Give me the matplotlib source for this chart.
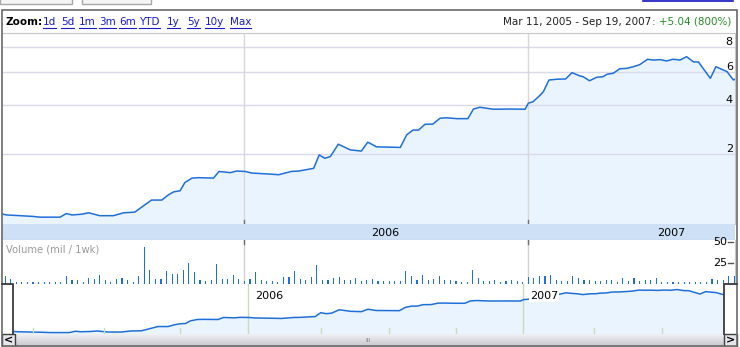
# Google Finance style price chart, Mar 2005 - Sep 2007

import numpy as np
import pandas as pd
import matplotlib
matplotlib.use("Agg")
import matplotlib.pyplot as plt
from matplotlib.patches import Rectangle
from matplotlib.lines import Line2D

# ---- data ----
price_dates = ['2005-03-08', '2005-03-17', '2005-04-03', '2005-04-19', '2005-04-28', '2005-05-23',
               '2005-05-31', '2005-06-07', '2005-06-19', '2005-06-28', '2005-07-12', '2005-07-29',
               '2005-08-11', '2005-08-25', '2005-09-15', '2005-09-28', '2005-10-06', '2005-10-13',
               '2005-10-21', '2005-10-27', '2005-11-05', '2005-11-13', '2005-12-02', '2005-12-09',
               '2005-12-23', '2005-12-31', '2006-01-11', '2006-01-19', '2006-02-07', '2006-02-22',
               '2006-03-10', '2006-03-19', '2006-04-07', '2006-04-14', '2006-04-21', '2006-04-28',
               '2006-05-08', '2006-05-23', '2006-06-06', '2006-06-14', '2006-06-17', '2006-06-25',
               '2006-07-25', '2006-08-02', '2006-08-10', '2006-08-17', '2006-08-25', '2006-09-04',
               '2006-09-13', '2006-09-21', '2006-10-04', '2006-10-18', '2006-10-25', '2006-11-02',
               '2006-11-19', '2006-12-10', '2006-12-29', '2007-01-02', '2007-01-08', '2007-01-17',
               '2007-01-21', '2007-01-28', '2007-02-07', '2007-02-18', '2007-02-26', '2007-03-08',
               '2007-03-12', '2007-03-20', '2007-03-29', '2007-04-06', '2007-04-11', '2007-04-19',
               '2007-04-27', '2007-05-06', '2007-05-14', '2007-05-22', '2007-06-01', '2007-06-08',
               '2007-06-17', '2007-06-25', '2007-07-03', '2007-07-12', '2007-07-20', '2007-07-29',
               '2007-08-04', '2007-08-19', '2007-08-26', '2007-09-09', '2007-09-17', '2007-09-21']
price = [0.70, 0.68, 0.67, 0.66, 0.65, 0.65, 0.70, 0.68, 0.69, 0.71,
         0.67, 0.67, 0.71, 0.72, 0.91, 0.91, 1.00, 1.06, 1.08, 1.25,
         1.35, 1.36, 1.35, 1.51, 1.48, 1.52, 1.51, 1.47, 1.45, 1.43,
         1.51, 1.52, 1.59, 1.97, 1.87, 1.92, 2.32, 2.13, 2.09, 2.39,
         2.35, 2.23, 2.21, 2.66, 2.85, 2.85, 3.09, 3.10, 3.36, 3.38,
         3.34, 3.34, 3.80, 3.89, 3.79, 3.80, 3.79, 4.10, 4.18, 4.55,
         4.75, 5.48, 5.53, 5.55, 5.98, 5.75, 5.70, 5.43, 5.66, 5.70,
         5.87, 5.94, 6.26, 6.29, 6.41, 6.56, 6.98, 6.92, 6.95, 6.85,
         6.98, 6.92, 7.19, 6.77, 6.77, 5.59, 6.41, 6.05, 5.48, 5.59]

# weekly volume, millions
vol_first_week = '2005-03-15'
volume = [9.8, 5.9, 2.4, 2.0, 2.0, 2.0, 2.0, 2.0, 2.0, 2.0, 2.0, 9.8, 4.3, 4.3, 2.8,
          6.7, 5.9, 11.0, 5.1, 2.8, 5.9, 6.7, 5.1, 2.8, 9.8, 43.2, 16.9, 5.9, 5.9, 14.9,
          12.2, 11.4, 16.9, 24.8, 13.8, 4.3, 3.9, 4.7, 24.0, 5.9, 5.9, 10.6, 5.9, 3.5, 5.9,
          13.8, 4.3, 3.9, 3.9, 2.8, 8.3, 8.3, 14.9, 5.9, 5.1, 8.3, 22.8, 4.3, 5.1, 7.5,
          8.3, 4.3, 4.3, 6.7, 3.5, 5.1,
          5.9, 3.9, 3.1, 3.1, 3.1, 3.1, 14.9, 9.0, 4.3, 11.0, 5.1, 5.9, 9.0, 5.1, 5.1,
          3.5, 2.8, 2.8, 16.9, 7.5, 3.5, 3.5, 4.7, 2.8, 3.5, 4.3, 3.5, 2.8, 8.3, 6.7,
          9.8, 9.8, 11.0, 5.1, 3.5, 3.5, 9.0, 6.7, 5.1, 4.3, 3.5, 3.5, 4.3, 4.3, 2.8,
          6.7, 3.5, 6.7, 3.5, 4.3, 4.3, 7.5, 2.8, 2.8, 2.8, 2.8, 2.8, 2.8, 2.8, 2.8,
          2.8, 5.9, 5.1, 5.1, 9.8, 9.8]

range_start, range_end = '2005-03-11', '2007-09-19'
price_ticks = [2, 4, 6, 8]
vol_ticks = [25, 50]
year_grid = ['2006-01-10', '2007-01-01']      # where the year lines sit in the picture
year_labels = ['2006', '2007']
year_label_dates = ['2006-07-06', '2007-07-01']
nav_ticks = ['2005-04-06', '2005-07-07', '2005-10-13', '2006-04-14', '2006-07-11',
             '2006-10-06', '2007-04-03', '2007-06-30']
zoom_links = ['1d', '5d', '1m', '3m', '6m', 'YTD', '1y', '5y', '10y', 'Max']

pdates = pd.to_datetime(price_dates)
vdates = pd.date_range(vol_first_week, periods=len(volume), freq='7D')
ygrid = pd.to_datetime(year_grid)
xlim = (pd.Timestamp(range_start), pd.Timestamp(range_end))

LINE = '#1f6fd8'
FILL = '#eaf4fe'
plt.rcParams['font.family'] = 'DejaVu Sans'

W, H = 740, 347


def box(x0, y0, x1, y1):
    return [x0 / W, 1 - y1 / H, (x1 - x0) / W, (y1 - y0) / H]


def fx(x):
    return x / W


def fy(y):
    return 1 - y / H


def root4(v):
    return np.sign(v) * np.abs(v) ** 0.25


def pow4(t):
    return np.sign(t) * np.abs(t) ** 4


fig = plt.figure(figsize=(7.4, 3.47), dpi=100)

# tabs above the chart and link underline
for x0, x1 in [(0, 72), (82, 151)]:
    fig.add_artist(Rectangle((fx(x0), fy(4)), (x1 - x0) / W, 8 / H, transform=fig.transFigure,
                             facecolor='#f4f4f4', edgecolor='#a8a8a8', lw=1))
fig.add_artist(Line2D([fx(643), fx(733)], [fy(0.6), fy(0.6)], color='#1010c0', lw=1.2))

# ---- main price panel ----
ax = fig.add_axes(box(2, 33, 735, 224))
ax.set_yscale('function', functions=(root4, pow4))
ax.fill_between(pdates, price, 0, color=FILL, lw=0, zorder=1)
ax.plot(pdates, price, color=LINE, lw=1.1, zorder=3)
ax.set_xlim(*xlim)
ax.set_ylim(0.5635, 9.305)
for v in price_ticks:
    ax.axhline(v, color='#dadaea', lw=1, zorder=2)
    ax.text(0.997, v, str(v), transform=ax.get_yaxis_transform(), ha='right', va='bottom',
            fontsize=8, color='black', zorder=5)
for d in ygrid:
    ax.axvline(d, color='#d8d8d8', lw=1, zorder=2)
    ax.axvline(d, ymin=0, ymax=0.022, color='#707070', lw=1, zorder=4)
ax.set_xticks([])
ax.set_yticks([])
ax.minorticks_off()
for s in ['left', 'bottom']:
    ax.spines[s].set_visible(False)
ax.spines['top'].set_color('#c8c8c8')
ax.spines['right'].set_color('#c8c8c8')

# year band
axb = fig.add_axes(box(2, 224, 735, 240), sharex=ax)
axb.set_facecolor('#cde0f6')
axb.set_yticks([])
axb.tick_params(axis='x', length=0, labelbottom=False)
for lab, d in zip(year_labels, pd.to_datetime(year_label_dates)):
    axb.text(d, 0.45, lab, ha='center', va='center', fontsize=8, color='black')
for s in ['left', 'top', 'right']:
    axb.spines[s].set_visible(False)
axb.spines['bottom'].set_color('#a8b8c8')

# ---- volume panel ----
axv = fig.add_axes(box(2, 240, 735, 284), sharex=ax)
axv.bar(vdates, volume, width=1.4, color=LINE, lw=0, zorder=3)
axv.set_ylim(0, 52)
for d in ygrid:
    axv.axvline(d, color='#d0d0d0', lw=1, zorder=1)
    axv.axvline(d, ymin=0.9, ymax=1, color='#707070', lw=1, zorder=2)
for v in vol_ticks:
    axv.text(0.989, v, str(v), transform=axv.get_yaxis_transform(), ha='right', va='center',
             fontsize=8, color='black')
    axv.plot([0.991, 0.997], [v, v], transform=axv.get_yaxis_transform(), color='#555555', lw=1)
axv.text(0.006, 0.78, 'Volume (mil / 1wk)', transform=axv.transAxes, fontsize=7.2,
         color='#9a9a9a', va='center')
axv.set_yticks([])
axv.tick_params(axis='x', length=0, labelbottom=False)
for s in ['left', 'top']:
    axv.spines[s].set_visible(False)
axv.spines['bottom'].set_color('#c8c8c8')
axv.spines['right'].set_color('#c8c8c8')

# ---- navigator ----
axn = fig.add_axes(box(13, 284, 724, 334))
axn.set_yscale('log')
axn.fill_between(pdates, price, 0.1, color=FILL, lw=0, zorder=1)
axn.plot(pdates, price, color=LINE, lw=1.1, zorder=3)
axn.set_xlim(*xlim)
axn.set_ylim(0.6, 9.8)
for d, lab in zip(ygrid, year_labels):
    axn.axvline(d, color='#c6dcbc', lw=1, zorder=2)
    axn.annotate(lab, xy=(d, 1), xycoords=('data', 'axes fraction'), xytext=(7, -7),
                 textcoords='offset pixels', ha='left', va='top', fontsize=8, zorder=5,
                 bbox=dict(boxstyle='square,pad=0.05', facecolor='white', edgecolor='none'))
for q in pd.to_datetime(nav_ticks):
    axn.axvline(q, ymin=0.03, ymax=0.12, color='#c6dcbc', lw=1, zorder=4)
axn.set_xticks([])
axn.set_yticks([])
axn.minorticks_off()
for s in axn.spines.values():
    s.set_visible(False)

# navigator window handles
fig.add_artist(Line2D([fx(2), fx(13), fx(13)], [fy(284), fy(284), fy(334)], color='#3a3a3a', lw=1.3))
fig.add_artist(Line2D([fx(737), fx(724), fx(724)], [fy(284), fy(284), fy(334)], color='#3a3a3a', lw=1.3))

# scrollbar with a soft vertical gradient
axs = fig.add_axes(box(2, 334, 737, 347))
grad = np.linspace(0, 1, 24).reshape(-1, 1)
axs.imshow(grad, aspect='auto', cmap=matplotlib.colors.LinearSegmentedColormap.from_list(
    'sb', ['#f0f0f4', '#c4c4cc']), extent=(0, 1, 0, 1), origin='upper')
axs.set_xlim(0, 1)
axs.set_ylim(0, 1)
axs.axis('off')
for x0, sym in [(2, '<'), (724, '>')]:
    fig.add_artist(Rectangle((fx(x0), fy(347)), 13 / W, 13 / H, transform=fig.transFigure,
                             facecolor='#e6e6ea', edgecolor='#404040', lw=1))
    fig.text(fx(x0 + 6.5), fy(340.5), sym, ha='center', va='center', fontsize=8,
             fontweight='bold', color='black')
fig.text(fx(368), fy(340.5), 'III', ha='center', va='center', fontsize=4.5, color='#888888')

# outer frame
fig.add_artist(Rectangle((fx(2), fy(346)), 735 / W, 336 / H, transform=fig.transFigure,
                         fill=False, edgecolor='#6a6a6a', lw=1.2))

# ---- header ----
fig.text(fx(6), fy(22), 'Zoom:', fontsize=7.5, fontweight='bold', va='center', color='black')
link_x = [43, 61, 79, 99, 119, 139, 167, 187, 205, 230]
renderer = fig.canvas.get_renderer()
for lab, x in zip(zoom_links, link_x):
    t = fig.text(fx(x), fy(22), lab, fontsize=7.5, va='center', color='#1a1acc')
    bb = t.get_window_extent(renderer)
    fig.add_artist(Line2D([bb.x0 / W, bb.x1 / W], [fy(27.5), fy(27.5)], color='#1a1acc', lw=0.8))

chg = fig.text(fx(731), fy(22), ': +5.04 (800%)', fontsize=7.5, va='center', ha='right',
               color='#2a8a2a')
ax.annotate('Mar 11, 2005 - Sep 19, 2007', xy=(0, 0.5), xycoords=chg, ha='right', va='center',
            fontsize=7.5, color='#222222', annotation_clip=False)

fig.savefig('out.png', dpi=100, facecolor='white')
